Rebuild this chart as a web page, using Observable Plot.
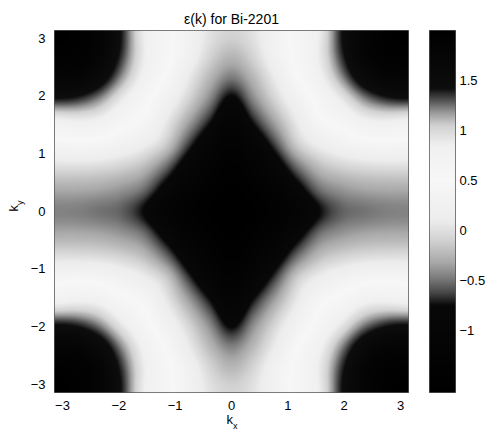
<!DOCTYPE html>
<html><head><meta charset="utf-8">
<script src="https://cdn.jsdelivr.net/npm/d3@7"></script>
<script src="https://cdn.jsdelivr.net/npm/@observablehq/plot@0.6"></script>
<style>
html,body{margin:0;padding:0;background:#fff;}
#chart{position:relative;width:488px;height:432px;overflow:hidden;font-family:"Liberation Sans",Arial,Helvetica,sans-serif;}
#chart svg{position:absolute;top:0;}
</style></head><body><div id="chart"></div>
<script>
// ---- data ----
const title = "ε(k) for Bi-2201";
const kTicks = [-3, -2, -1, 0, 1, 2, 3];
const cbTicks = [-1, -0.5, 0, 0.5, 1, 1.5];
// grid spacing in k: pi/8 ; quadrant kx, ky = 0, pi/8, ..., pi
const quadrantSteps = [0, 1, 2, 3, 4, 5, 6, 7, 8];
// rows: ky index 0..8, columns: kx index 0..8
const epsQuadrant = [
  [-1.62, -1.57, -1.40, -1.13, -0.75, -0.55, -0.50, -0.46, -0.45],
  [-1.59, -1.45, -1.20, -0.85, -0.50, -0.38, -0.32, -0.30, -0.30],
  [-1.49, -1.27, -0.93, -0.50, -0.20, -0.08, -0.02,  0.00,  0.00],
  [-1.32, -1.02, -0.60, -0.10,  0.15,  0.30,  0.42,  0.45,  0.42],
  [-1.09, -0.70, -0.30,  0.10,  0.45,  0.62,  0.82,  0.86,  0.82],
  [-0.79, -0.42, -0.05,  0.30,  0.62,  0.92,  1.22,  1.38,  1.42],
  [-0.45, -0.22,  0.12,  0.50,  0.82,  1.22,  1.60,  1.78,  1.80],
  [-0.22, -0.05,  0.28,  0.60,  0.90,  1.38,  1.78,  1.92,  1.95],
  [-0.08,  0.03,  0.30,  0.62,  0.88,  1.42,  1.80,  1.95,  2.00]
];
const epsRange = [-1.62, 2.0];
// printed colormap (value -> gray level)
const cmapValues = [-1.62, -0.75, -0.62, -0.48, -0.32, -0.1, 0.1, 0.5, 0.85, 1.05, 1.18, 1.3, 1.42, 2.0];
const cmapGrays  = [0.0,   0.03,  0.28,  0.48,  0.66,  0.82, 0.93, 0.97, 0.94, 0.82, 0.6,  0.32, 0.05, 0.0];

// ---- build full grid by mirror symmetry ----
const H = quadrantSteps.length - 1;           // 8
const N = 2 * H + 1;                          // 17
const step = Math.PI / H;
const grid = d3.range(N).map(n => d3.range(N).map(m => epsQuadrant[Math.abs(n - H)][Math.abs(m - H)]));

function cr(p0, p1, p2, p3, t) {
  return p1 + 0.5 * t * (p2 - p0 + t * (2 * p0 - 5 * p1 + 4 * p2 - p3 + t * (3 * (p1 - p2) + p3 - p0)));
}
function ix(i) { if (i < 0) i = -i; if (i > N - 1) i = 2 * (N - 1) - i; return i; }
function interp(x, y) {
  const fx = (x + Math.PI) / step, fy = (y + Math.PI) / step;
  const i0 = Math.floor(fx), j0 = Math.floor(fy);
  const tx = fx - i0, ty = fy - j0;
  const col = [];
  for (let j = -1; j <= 2; j++) {
    const r = grid[ix(j0 + j)];
    col.push(cr(r[ix(i0 - 1)], r[ix(i0)], r[ix(i0 + 1)], r[ix(i0 + 2)], tx));
  }
  return cr(col[0], col[1], col[2], col[3], ty);
}

const grayColor = g => { const v = Math.round(g * 255); return `rgb(${v},${v},${v})`; };
const colorScale = {type: "linear", domain: cmapValues, range: cmapGrays.map(grayColor), clamp: true};
const fmt = d => (d < 0 ? "\u2212" : "") + Math.abs(d);
const font = '"Liberation Sans", Arial, Helvetica, sans-serif';

const main = Plot.plot({
  width: 420, height: 432,
  marginLeft: 54, marginRight: 12, marginTop: 30, marginBottom: 40,
  style: {fontFamily: font, fontSize: "13px", background: "transparent", color: "#000"},
  x: {domain: [-Math.PI, Math.PI], ticks: kTicks, tickSize: 0, tickPadding: 8, label: null, tickFormat: fmt},
  y: {domain: [-Math.PI, Math.PI], ticks: kTicks, tickSize: 0, tickPadding: 9, label: null, tickFormat: fmt},
  color: colorScale,
  marks: [
    Plot.raster({x1: -Math.PI, x2: Math.PI, y1: -Math.PI, y2: Math.PI, fill: (x, y) => interp(x, y)}),
    Plot.frame({stroke: "#000", strokeOpacity: 0.5}),
    Plot.text([title], {frameAnchor: "top", dy: -16, fontSize: 14})
  ]
});
main.style.left = "0px";

const cb = Plot.plot({
  width: 68, height: 432,
  marginLeft: 9, marginRight: 33, marginTop: 30, marginBottom: 40,
  style: {fontFamily: font, fontSize: "13px", background: "transparent", color: "#000"},
  x: {domain: [0, 1], axis: null},
  y: {domain: epsRange, axis: "right", ticks: cbTicks, tickSize: 0, tickPadding: 4, label: null, tickFormat: fmt},
  color: colorScale,
  marks: [
    Plot.raster({x1: 0, x2: 1, y1: epsRange[0], y2: epsRange[1], fill: (x, y) => y}),
    Plot.frame({stroke: "#000", strokeOpacity: 0.5})
  ]
});
cb.style.left = "420px";

const host = document.getElementById("chart");
host.appendChild(main);
host.appendChild(cb);

// axis labels with subscripts
const svg = d3.select(main);
const xl = svg.append("text").attr("x", 232).attr("y", 424).attr("text-anchor", "middle")
  .attr("font-family", font).attr("font-size", 13);
xl.append("tspan").text("k");
xl.append("tspan").attr("font-size", 9).attr("dy", 5).text("x");
const yl = svg.append("text").attr("transform", "translate(18,206) rotate(-90)").attr("text-anchor", "middle")
  .attr("font-family", font).attr("font-size", 13);
yl.append("tspan").text("k");
yl.append("tspan").attr("font-size", 9).attr("dy", 5).text("y");
</script>
</body></html>
